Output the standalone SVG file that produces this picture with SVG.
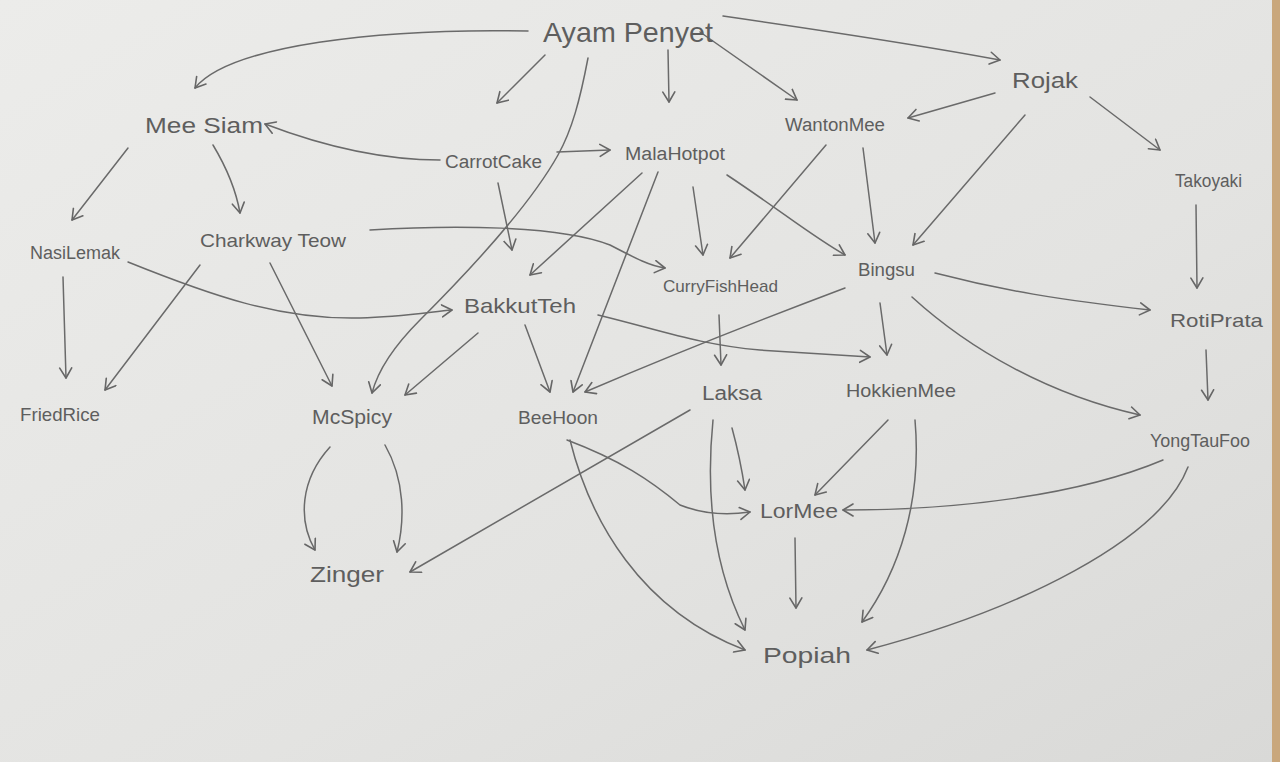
<svg xmlns="http://www.w3.org/2000/svg" width="1280" height="762" viewBox="0 0 1280 762">
<defs>
<linearGradient id="paper" x1="0" y1="0" x2="1" y2="1">
<stop offset="0" stop-color="#ececea"/>
<stop offset="0.6" stop-color="#e3e3e1"/>
<stop offset="1" stop-color="#d9d9d7"/>
</linearGradient>
<marker id="ah" markerUnits="userSpaceOnUse" markerWidth="18" markerHeight="18" refX="11" refY="7" orient="auto">
<path d="M1,1 L11,7 L1,13" fill="none" stroke="#666" stroke-width="1.6" stroke-linecap="round" stroke-linejoin="round"/>
</marker>
<style>
.lbl{font-family:"Liberation Sans",Arial,sans-serif;fill:#5e5e5e}
.e{fill:none;stroke:#6a6a6a;stroke-width:1.5;stroke-linecap:round;marker-end:url(#ah)}
</style>
</defs>
<rect x="0" y="0" width="1280" height="762" fill="url(#paper)"/>
<rect x="1272" y="0" width="8" height="762" fill="#c9a77c"/>
<g id="connectors">
<path class="e" d="M528,31 C380,28 230,45 195,88"/>
<path class="e" d="M545,55 L497,103"/>
<path class="e" d="M588,58 C580,100 572,130 558,155 C530,205 470,270 420,320 C395,345 378,370 372,393"/>
<path class="e" d="M668,50 L669,102"/>
<path class="e" d="M700,32 L797,100"/>
<path class="e" d="M723,16 C820,30 920,45 1000,60"/>
<path class="e" d="M995,93 L908,118"/>
<path class="e" d="M1025,115 L913,245"/>
<path class="e" d="M1090,97 L1160,150"/>
<path class="e" d="M1196,205 L1197,288"/>
<path class="e" d="M128,148 L72,220"/>
<path class="e" d="M213,145 C228,170 236,190 240,213"/>
<path class="e" d="M440,160 C380,160 320,145 265,124"/>
<path class="e" d="M557,152 L610,150"/>
<path class="e" d="M498,183 L512,250"/>
<path class="e" d="M642,173 L530,275"/>
<path class="e" d="M658,172 L573,392"/>
<path class="e" d="M693,187 L703,255"/>
<path class="e" d="M727,175 C780,210 810,235 845,255"/>
<path class="e" d="M826,145 L730,258"/>
<path class="e" d="M863,148 L875,243"/>
<path class="e" d="M370,230 C450,225 560,225 610,245 C635,258 650,266 665,268"/>
<path class="e" d="M200,265 L105,390"/>
<path class="e" d="M270,263 L332,386"/>
<path class="e" d="M63,277 L66,378"/>
<path class="e" d="M128,262 C210,295 280,320 360,318 C400,317 430,312 452,310"/>
<path class="e" d="M478,333 L405,395"/>
<path class="e" d="M525,325 L550,392"/>
<path class="e" d="M598,315 C660,330 700,345 760,350 C810,353 840,355 870,357"/>
<path class="e" d="M719,315 L721,365"/>
<path class="e" d="M845,288 C760,320 660,360 585,392"/>
<path class="e" d="M880,303 L887,355"/>
<path class="e" d="M935,273 C1000,290 1060,300 1150,310"/>
<path class="e" d="M912,297 C970,350 1050,395 1140,415"/>
<path class="e" d="M1206,350 L1208,400"/>
<path class="e" d="M330,447 C300,480 298,520 315,550"/>
<path class="e" d="M385,445 C405,480 405,520 397,552"/>
<path class="e" d="M690,410 L410,572"/>
<path class="e" d="M567,440 C620,460 650,480 680,505 C705,515 730,515 750,512"/>
<path class="e" d="M570,440 C590,520 640,610 745,650"/>
<path class="e" d="M732,428 C738,450 742,470 745,490"/>
<path class="e" d="M713,420 C705,500 715,570 745,630"/>
<path class="e" d="M888,420 L815,495"/>
<path class="e" d="M915,420 C922,500 900,570 862,622"/>
<path class="e" d="M1163,460 C1080,495 960,510 843,510"/>
<path class="e" d="M1188,467 C1160,540 1020,610 867,650"/>
<path class="e" d="M795,538 L796,608"/>
</g>
<g id="n-ayam"><text class="lbl" x="543" y="42" font-size="28" textLength="170" lengthAdjust="spacingAndGlyphs">Ayam Penyet</text></g>
<g id="n-meesiam"><text class="lbl" x="145" y="133" font-size="22" textLength="118" lengthAdjust="spacingAndGlyphs">Mee Siam</text></g>
<g id="n-carrotcake"><text class="lbl" x="445" y="168" font-size="18" textLength="97" lengthAdjust="spacingAndGlyphs">CarrotCake</text></g>
<g id="n-malahotpot"><text class="lbl" x="625" y="160" font-size="18" textLength="100" lengthAdjust="spacingAndGlyphs">MalaHotpot</text></g>
<g id="n-wantonmee"><text class="lbl" x="785" y="131" font-size="18" textLength="100" lengthAdjust="spacingAndGlyphs">WantonMee</text></g>
<g id="n-rojak"><text class="lbl" x="1012" y="88" font-size="22" textLength="66" lengthAdjust="spacingAndGlyphs">Rojak</text></g>
<g id="n-takoyaki"><text class="lbl" x="1175" y="187" font-size="18" textLength="67" lengthAdjust="spacingAndGlyphs">Takoyaki</text></g>
<g id="n-nasilemak"><text class="lbl" x="30" y="259" font-size="18" textLength="90" lengthAdjust="spacingAndGlyphs">NasiLemak</text></g>
<g id="n-charkwayteow"><text class="lbl" x="200" y="247" font-size="19" textLength="146" lengthAdjust="spacingAndGlyphs">Charkway Teow</text></g>
<g id="n-bakkutteh"><text class="lbl" x="464" y="313" font-size="21" textLength="112" lengthAdjust="spacingAndGlyphs">BakkutTeh</text></g>
<g id="n-curryfishhead"><text class="lbl" x="663" y="292" font-size="17" textLength="115" lengthAdjust="spacingAndGlyphs">CurryFishHead</text></g>
<g id="n-bingsu"><text class="lbl" x="858" y="276" font-size="19" textLength="57" lengthAdjust="spacingAndGlyphs">Bingsu</text></g>
<g id="n-rotiprata"><text class="lbl" x="1170" y="327" font-size="19" textLength="93" lengthAdjust="spacingAndGlyphs">RotiPrata</text></g>
<g id="n-friedrice"><text class="lbl" x="20" y="421" font-size="19" textLength="80" lengthAdjust="spacingAndGlyphs">FriedRice</text></g>
<g id="n-mcspicy"><text class="lbl" x="312" y="424" font-size="21" textLength="80" lengthAdjust="spacingAndGlyphs">McSpicy</text></g>
<g id="n-beehoon"><text class="lbl" x="518" y="424" font-size="19" textLength="80" lengthAdjust="spacingAndGlyphs">BeeHoon</text></g>
<g id="n-laksa"><text class="lbl" x="702" y="400" font-size="20" textLength="60" lengthAdjust="spacingAndGlyphs">Laksa</text></g>
<g id="n-hokkienmee"><text class="lbl" x="846" y="397" font-size="19" textLength="110" lengthAdjust="spacingAndGlyphs">HokkienMee</text></g>
<g id="n-yongtaufoo"><text class="lbl" x="1150" y="447" font-size="19" textLength="100" lengthAdjust="spacingAndGlyphs">YongTauFoo</text></g>
<g id="n-zinger"><text class="lbl" x="310" y="582" font-size="22" textLength="74" lengthAdjust="spacingAndGlyphs">Zinger</text></g>
<g id="n-lormee"><text class="lbl" x="760" y="518" font-size="20" textLength="78" lengthAdjust="spacingAndGlyphs">LorMee</text></g>
<g id="n-popiah"><text class="lbl" x="763" y="663" font-size="22" textLength="88" lengthAdjust="spacingAndGlyphs">Popiah</text></g>
</svg>
